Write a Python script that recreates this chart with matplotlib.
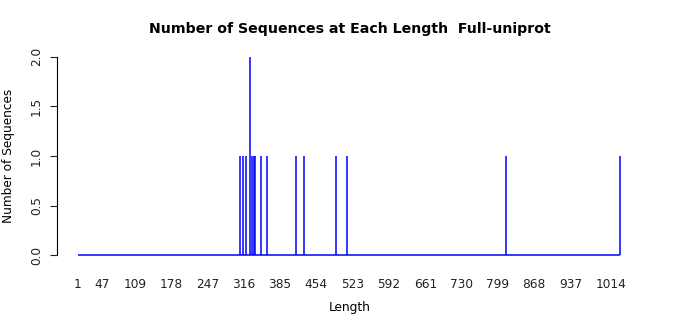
import matplotlib
matplotlib.use("Agg")
import matplotlib.pyplot as plt

# sequence lengths with non-zero counts
lengths = [309, 315, 321, 327, 332, 336, 338, 349, 361, 415, 430, 491, 512, 815, 1031]
counts = [1, 1, 1, 2, 1, 1, 1, 1, 1, 1, 1, 1, 1, 1, 1]
min_length = 1
max_length = 1031
x_ticks = [1, 47, 109, 178, 247, 316, 385, 454, 523, 592, 661, 730, 799, 868, 937, 1014]
y_ticks = [0.0, 0.5, 1.0, 1.5, 2.0]

plt.rcParams["font.family"] = "DejaVu Sans"

fig = plt.figure(figsize=(7, 3.15), dpi=100)
ax = fig.add_axes([57 / 700, 52 / 315, 584 / 700, 214 / 315])

ax.hlines(0, min_length, max_length, color="blue", lw=1.1)
ax.vlines(lengths, 0, counts, color="blue", lw=1.1)

ax.set_xlim(-38.9, 1071)
ax.set_ylim(-0.08, 2.08)

for side in ("top", "right", "bottom"):
    ax.spines[side].set_visible(False)
ax.spines["left"].set_bounds(0, 2)
ax.spines["left"].set_linewidth(0.8)

ax.set_xticks(x_ticks)
ax.set_xticklabels([str(t) for t in x_ticks])
ax.tick_params(axis="x", length=0, pad=11, labelsize=8.7, colors="#222222")
ax.set_yticks(y_ticks)
ax.set_yticklabels([f"{t:.1f}" for t in y_ticks], rotation=90, va="center")
ax.tick_params(axis="y", length=5, width=0.8, pad=5, labelsize=8.7, colors="#222222")

fig.text(350 / 700, 1 - 29 / 315, "Number of Sequences at Each Length  Full-uniprot",
         ha="center", va="center", fontsize=10.2, fontweight="bold")
fig.text(350 / 700, 1 - 307 / 315, "Length", ha="center", va="center", fontsize=8.7)
fig.text(9 / 700, 1 - 156 / 315, "Number of Sequences", ha="center", va="center",
         rotation=90, fontsize=8.7)

fig.savefig("out.png", dpi=100)
